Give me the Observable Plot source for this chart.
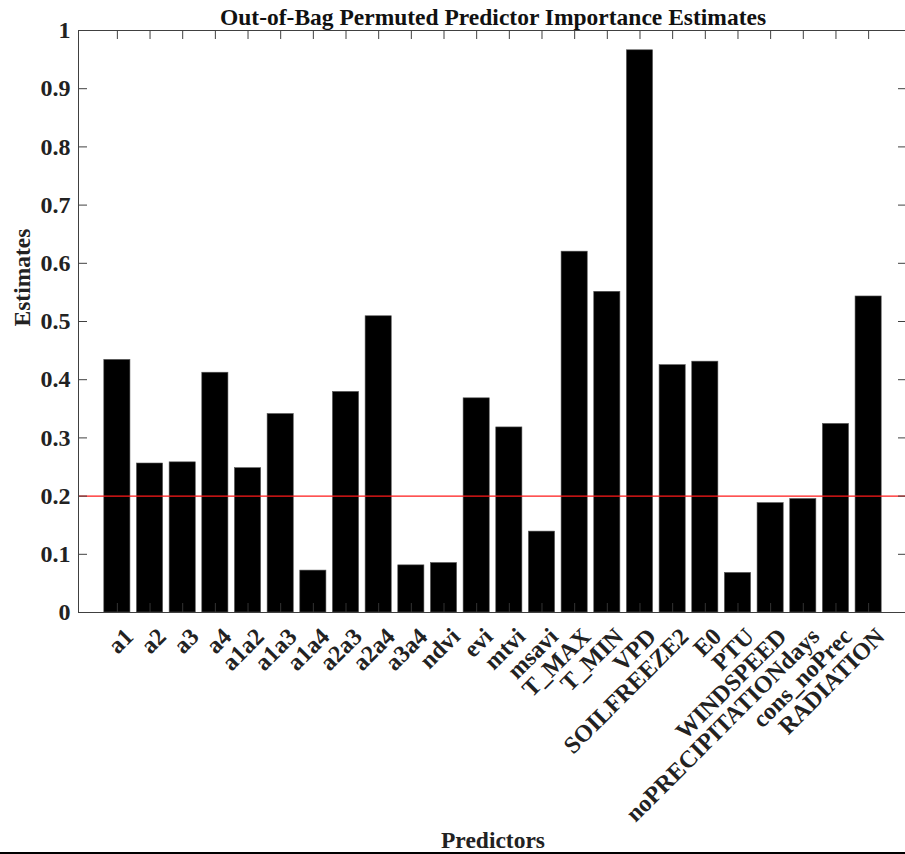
<!DOCTYPE html>
<html>
<head>
<meta charset="utf-8">
<script src="https://cdn.jsdelivr.net/npm/d3@7"></script>
<script src="https://cdn.jsdelivr.net/npm/@observablehq/plot@0.6"></script>
<style>
  html, body { margin: 0; padding: 0; background: #fff; overflow: hidden; width: 905px; }
  #chart { width: 905px; overflow: hidden; height: 852px; }
  #chart svg { max-width: none !important; display: block; }
  #bottomline { width: 905px; height: 2px; background: #000; }
</style>
</head>
<body>
<div id="chart"></div>
<div id="bottomline"></div>
<script>
const titleText = "Out-of-Bag Permuted Predictor Importance Estimates";
const xLabel = "Predictors";
const yLabel = "Estimates";
const predictors = ["a1","a2","a3","a4","a1a2","a1a3","a1a4","a2a3","a2a4","a3a4","ndvi","evi","mtvi","msavi","T_MAX","T_MIN","VPD","SOILFREEZE2","E0","PTU","WINDSPEED","noPRECIPITATIONdays","cons_noPrec","RADIATION"];
const estimates = [0.434,0.256,0.258,0.412,0.248,0.341,0.072,0.379,0.509,0.081,0.085,0.368,0.318,0.139,0.620,0.551,0.966,0.425,0.431,0.068,0.188,0.195,0.324,0.543];
const yTicks = [0,0.1,0.2,0.3,0.4,0.5,0.6,0.7,0.8,0.9,1];
const threshold = [0.2];

const data = predictors.map((p, i) => ({name: p, value: estimates[i]}));
const font = "'Liberation Serif', 'Times New Roman', serif";
const axisColor = "#404040";

const chart = Plot.plot({
  width: 910,
  height: 852,
  marginLeft: 78,
  marginRight: 3,
  marginTop: 30,
  marginBottom: 240,
  style: {fontFamily: font, fontWeight: "bold", background: "white", overflow: "visible"},
  x: {type: "band", domain: predictors, paddingInner: 0.2, paddingOuter: 0.79, round: false, axis: null},
  y: {domain: [0, 1], axis: null},
  marks: [
    Plot.barY(data, {x: "name", y: "value", fill: "#000", stroke: "#555", strokeWidth: 0.6}),
    Plot.ruleY(threshold, {stroke: "#ff1a1a", strokeWidth: 1.2}),
    Plot.frame({stroke: axisColor, strokeWidth: 1}),
    Plot.tickY(yTicks, {y: d => d, stroke: axisColor, insetRight: 820}),
    Plot.tickY(yTicks, {y: d => d, stroke: axisColor, insetLeft: 820}),
    Plot.tickX(predictors, {x: d => d, stroke: axisColor, insetBottom: 573}),
    Plot.tickX(predictors, {x: d => d, stroke: "#333", insetTop: 573}),
    Plot.text(yTicks, {y: d => d, text: d => String(+d.toFixed(1)), frameAnchor: "left", textAnchor: "end", dx: -8, fontSize: 24, fill: "#222"}),
    Plot.text(predictors, {x: d => d, text: d => d, frameAnchor: "bottom", rotate: -45, textAnchor: "end", lineAnchor: "middle", dx: 12, dy: 20, fontSize: 24, fill: "#222"}),
    Plot.text([titleText], {text: d => d, frameAnchor: "top", lineAnchor: "middle", dy: -13, fontSize: 23.5, fill: "#111"}),
    Plot.text([yLabel], {text: d => d, frameAnchor: "left", rotate: -90, lineAnchor: "middle", dx: -56, dy: 5, fontSize: 23.5, fill: "#222"}),
    Plot.text([xLabel], {text: d => d, frameAnchor: "bottom", lineAnchor: "middle", dy: 228, fontSize: 23.5, fill: "#222"})
  ]
});
document.getElementById("chart").appendChild(chart);
</script>
</body>
</html>
